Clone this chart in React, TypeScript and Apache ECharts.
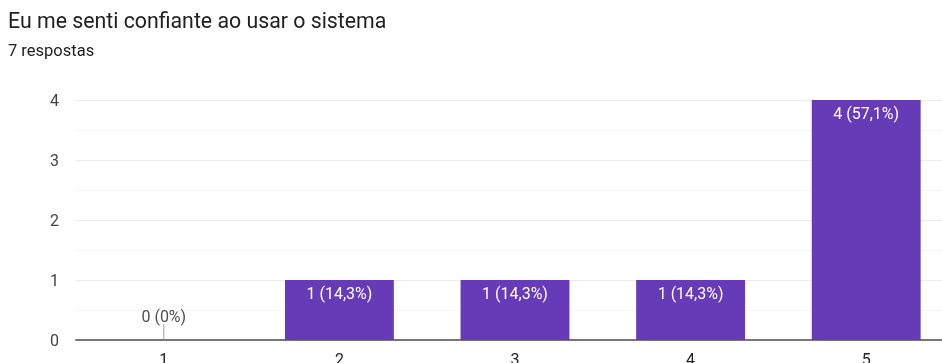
import React, { useEffect, useRef } from "react";
import * as echarts from "echarts";

const categories = ["1", "2", "3", "4", "5"];
const counts = [0, 1, 1, 1, 4];
const percents = ["0%", "14,3%", "14,3%", "14,3%", "57,1%"];
const title = "Eu me senti confiante ao usar o sistema";
const subtitle = "7 respostas";

export default function App() {
  const ref = useRef<HTMLDivElement>(null);
  useEffect(() => {
    const chart = echarts.init(ref.current!, null, { renderer: "svg" });
    const labelFor = (i: number) => `${counts[i]} (${percents[i]})`;
    chart.setOption({
      animation: false,
      textStyle: { fontFamily: "Roboto" },
      title: [
        {
          text: title,
          left: 3,
          top: 5,
          textStyle: { fontSize: 21.3, fontWeight: "normal", color: "#202124", fontFamily: "Roboto" },
        },
        {
          text: subtitle,
          left: 3,
          top: 37,
          textStyle: { fontSize: 16.5, fontWeight: "normal", color: "#202124", fontFamily: "Roboto" },
        },
      ],
      grid: {
        left: 76,
        right: 0,
        top: 100,
        bottom: 23,
        containLabel: false,
        outerBoundsMode: "none",
      },
      xAxis: {
        type: "category",
        data: categories,
        axisLine: { lineStyle: { color: "#777", width: 2 } },
        axisTick: { show: false },
        axisLabel: { color: "#222", fontSize: 16, margin: 11 },
      },
      yAxis: {
        type: "value",
        min: 0,
        max: 4,
        interval: 1,
        axisLine: { show: false },
        axisTick: { show: false },
        axisLabel: { color: "#444", fontSize: 16, margin: 17 },
        splitLine: { lineStyle: { color: "#ebebeb", width: 1 } },
        minorTick: { show: false, splitNumber: 2 },
        minorSplitLine: { show: true, lineStyle: { color: "#f5f5f5", width: 1 } },
      },
      series: [
        {
          type: "bar",
          data: counts,
          barWidth: "62%",
          itemStyle: { color: "#673ab7" },
          label: {
            show: true,
            position: "insideTop",
            distance: 5,
            color: "#ffffff",
            fontSize: 16,
            formatter: (p: any) => (counts[p.dataIndex] > 0 ? labelFor(p.dataIndex) : ""),
          },
        },
        {
          type: "scatter",
          data: counts.map((v, i) => (v === 0 ? [categories[i], v] : null)).filter((d) => d),
          symbol: "rect",
          symbolSize: [1, 16],
          symbolOffset: [0, -8],
          itemStyle: { color: "#888" },
          label: {
            show: true,
            position: "top",
            distance: 0,
            color: "#222",
            fontSize: 16,
            formatter: (p: any) => labelFor(categories.indexOf(p.value[0])),
          },
          silent: true,
        },
      ],
    });
    return () => chart.dispose();
  }, []);
  return (
    <div style={{ position: "fixed", left: 0, top: 0, width: 942, height: 363, overflow: "hidden" }}>
      <div ref={ref} style={{ width: 954, height: 363 }} />
    </div>
  );
}
